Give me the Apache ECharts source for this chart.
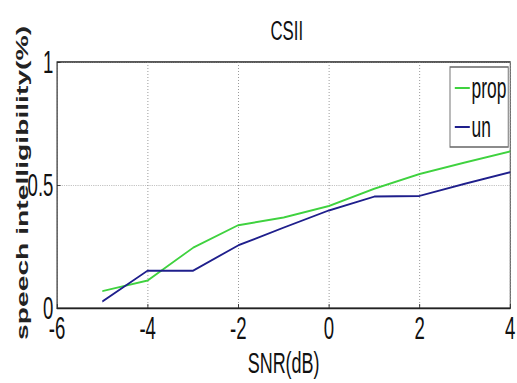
<!DOCTYPE html>
<html><head><meta charset="utf-8">
<script src="https://cdn.jsdelivr.net/npm/echarts@6/dist/echarts.min.js"></script>
<style>
html,body{margin:0;padding:0;background:#fff;overflow:hidden;width:517px;height:383px}
#c{width:862px;height:383px;transform:scaleX(0.6);transform-origin:0 0}
</style>
</head><body><div id="c"></div>
<script>
const snr = [-5, -4, -3, -2, -1, 0, 1, 2, 3, 4];
const prop = [0.069, 0.112, 0.245, 0.337, 0.368, 0.415, 0.485, 0.545, 0.592, 0.637];
const un = [0.027, 0.152, 0.152, 0.255, 0.327, 0.397, 0.453, 0.456, 0.505, 0.552];
const xTicks = [-6, -4, -2, 0, 2, 4];
const yTicks = [0, 0.5, 1];
const titleText = 'CSII';
const xName = 'SNR(dB)';
const yName = 'speech intelligibility(%)';

const FONT = '"Liberation Sans", Arial, sans-serif';
const chart = echarts.init(document.getElementById('c'), null, {renderer: 'svg', width: 862, height: 383});
chart.setOption({
  animation: false,
  backgroundColor: '#fff',
  title: {text: titleText, left: 473, top: 11, textAlign: 'center',
    textStyle: {fontFamily: FONT, fontSize: 28, fontWeight: 'normal', color: '#111'}},
  grid: {left: 95, right: 8, top: 62, bottom: 71, show: true, borderColor: '#222', borderWidth: 1.4},
  legend: {
    orient: 'vertical', left: 750, top: 67,
    backgroundColor: '#fff', borderColor: '#666', borderWidth: 1.5,
    padding: [6, 3, 5, 8], itemWidth: 25, itemHeight: 2, itemGap: 9, icon: 'rect',
    textStyle: {fontFamily: FONT, fontSize: 29, color: '#111', padding: [0, 0, 0, -2], lineHeight: 30},
    data: ['prop', 'un']
  },
  xAxis: {
    type: 'value', min: xTicks[0], max: xTicks[xTicks.length - 1], interval: 2,
    name: xName, nameLocation: 'middle', nameGap: 38,
    nameTextStyle: {fontFamily: FONT, fontSize: 30, color: '#111'},
    axisLine: {show: true, onZero: false, lineStyle: {color: '#222', width: 1.4}},
    axisTick: {show: true, inside: true, length: 4, lineStyle: {color: '#222', width: 1.4}},
    axisLabel: {fontFamily: FONT, fontSize: 31, color: '#111', margin: 4,
      formatter: v => xTicks.includes(v) ? String(v) : ''},
    splitLine: {show: true, lineStyle: {type: [1, 2], color: '#888', width: 1.4}}
  },
  yAxis: {
    type: 'value', min: yTicks[0], max: yTicks[yTicks.length - 1], interval: 0.5,
    axisLine: {show: true, onZero: false, lineStyle: {color: '#555', width: 1.4}},
    axisTick: {show: true, inside: true, length: 6, lineStyle: {color: '#222'}},
    axisLabel: {fontFamily: FONT, fontSize: 31, color: '#111', margin: 6,
      formatter: v => yTicks.includes(v) ? String(v) : ''},
    splitLine: {show: true, lineStyle: {type: [1, 2], color: '#888'}}
  },
  graphic: [{
    type: 'text', x: 37, y: 183, rotation: Math.PI / 2, scaleX: 1.01, scaleY: 0.98,
    style: {text: yName, fontFamily: FONT, fontWeight: 'bold',
      fontSize: 28, fill: '#222', align: 'center', verticalAlign: 'middle'}
  }],
  series: [
    {name: 'prop', type: 'line', symbol: 'none', data: snr.map((x, i) => [x, prop[i]]),
     lineStyle: {color: '#3fd23f', width: 2}, itemStyle: {color: '#3fd23f'}},
    {name: 'un', type: 'line', symbol: 'none', data: snr.map((x, i) => [x, un[i]]),
     lineStyle: {color: '#1f1f8c', width: 2}, itemStyle: {color: '#1f1f8c'}}
  ]
});
</script></body></html>
